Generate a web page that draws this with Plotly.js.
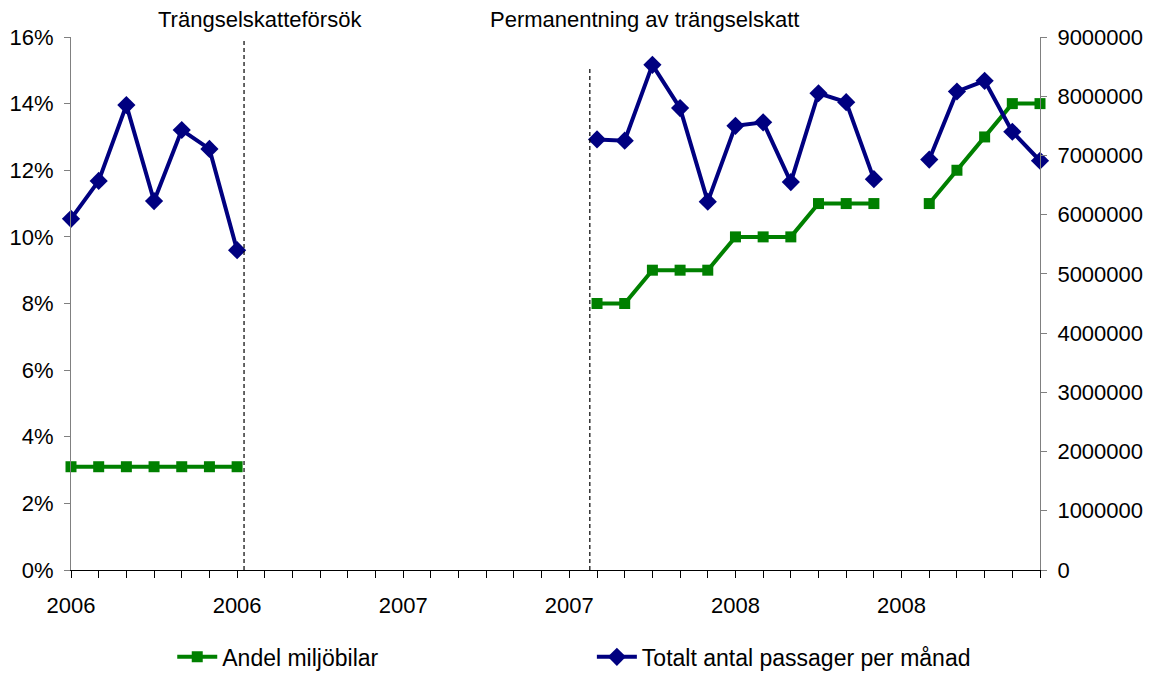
<!DOCTYPE html>
<html>
<head>
<meta charset="utf-8">
<script src="https://cdn.plot.ly/plotly-3.0.1.min.js"></script>
<style>html,body{margin:0;padding:0;background:#fff;}#chart{width:1156px;height:673px;}</style>
</head>
<body>
<div id="chart"></div>
<script>
// Months Jan 2006 .. Dec 2008 (index 0..35)
const monthIndex = Array.from({length: 36}, (_, i) => i);
const tickLabels = ["2006","","","","","","2006","","","","","","2007","","","","","","2007","","","","","","2008","","","","","","2008","","","","",""];

// Andel miljöbilar (share, fraction)
const andelMiljobilar = [
  0.031,0.031,0.031,0.031,0.031,0.031,0.031,
  null,null,null,null,null,null,null,null,null,null,null,null,
  0.08,0.08,0.09,0.09,0.09,
  0.10,0.10,0.10,0.11,0.11,0.11,
  null,
  0.11,0.12,0.13,0.14,0.14
];

// Totalt antal passager per månad
const passager = [
  5930000,6570000,7850000,6230000,7430000,7110000,5400000,
  null,null,null,null,null,null,null,null,null,null,null,null,
  7270000,7250000,8530000,7800000,6220000,
  7500000,7560000,6550000,8050000,7900000,6600000,
  null,
  6930000,8080000,8260000,7400000,6910000
];

const eventLabels = ["Trängselskatteförsök", "Permanentning av trängselskatt"];

const FONT = "Liberation Sans, Arial, sans-serif";

const traces = [
  {
    x: monthIndex, y: andelMiljobilar, name: "Andel miljöbilar",
    type: "scatter", mode: "lines+markers", yaxis: "y", legend: "legend",
    line: {color: "#008000", width: 4}, marker: {symbol: "square", size: 11, color: "#008000"},
    connectgaps: false, cliponaxis: false
  },
  {
    x: monthIndex, y: passager, name: "Totalt antal passager per månad",
    type: "scatter", mode: "lines+markers", yaxis: "y2", legend: "legend2",
    line: {color: "#000080", width: 4}, marker: {symbol: "diamond", size: 14, color: "#000080"},
    connectgaps: false, cliponaxis: false
  }
];

const layout = {
  width: 1156, height: 673,
  margin: {l: 71, r: 116, t: 37, b: 103},
  paper_bgcolor: "#fff", plot_bgcolor: "#fff",
  font: {family: FONT, size: 22, color: "#000"},
  showlegend: true,
  xaxis: {
    range: [0, 35], tickmode: "array", tickvals: monthIndex, ticktext: tickLabels,
    ticks: "outside", ticklen: 7, tickcolor: "#000", tickwidth: 1,
    showline: true, linecolor: "#000", linewidth: 1,
    showgrid: false, zeroline: false, ticklabelstandoff: 9,
    tickfont: {family: FONT, size: 22, color: "#000"}, automargin: false
  },
  yaxis: {
    range: [0, 0.16], dtick: 0.02, tickformat: ".0%",
    ticks: "outside", ticklen: 6, tickcolor: "#808080",
    showline: true, linecolor: "#808080", linewidth: 1,
    showgrid: false, zeroline: false, ticklabelstandoff: 6,
    tickfont: {family: FONT, size: 22, color: "#000"}, automargin: false
  },
  yaxis2: {
    range: [0, 9000000], dtick: 1000000, tickformat: "d", overlaying: "y", side: "right",
    ticks: "outside", ticklen: 6, tickcolor: "#808080",
    showline: true, linecolor: "#808080", linewidth: 1,
    showgrid: false, zeroline: false, ticklabelstandoff: 6,
    tickfont: {family: FONT, size: 22, color: "#000"}, automargin: false
  },
  legend: {
    orientation: "h", xref: "container", yref: "container",
    x: 0.149, xanchor: "left", y: 0.024, yanchor: "middle", itemwidth: 40,
    font: {family: FONT, size: 23, color: "#000"}, bgcolor: "rgba(0,0,0,0)"
  },
  legend2: {
    orientation: "h", xref: "container", yref: "container",
    x: 0.512, xanchor: "left", y: 0.024, yanchor: "middle", itemwidth: 40,
    font: {family: FONT, size: 23, color: "#000"}, bgcolor: "rgba(0,0,0,0)"
  },
  shapes: [
    {type: "line", xref: "x", yref: "paper", x0: 6.25, x1: 6.25, y0: 0, y1: 0.995,
     line: {color: "#000", width: 1.2, dash: "4px,3px"}},
    {type: "line", xref: "x", yref: "paper", x0: 18.74, x1: 18.74, y0: 0, y1: 0.942,
     line: {color: "#000", width: 1.2, dash: "4px,3px"}}
  ],
  annotations: [
    {text: eventLabels[0], xref: "x", yref: "paper", x: 6.83, y: 1.032, yanchor: "middle",
     showarrow: false, font: {family: FONT, size: 22, color: "#000"}},
    {text: eventLabels[1], xref: "x", yref: "paper", x: 20.7, y: 1.032, yanchor: "middle",
     showarrow: false, font: {family: FONT, size: 22, color: "#000"}}
  ]
};

Plotly.newPlot("chart", traces, layout, {displayModeBar: false, staticPlot: true});
</script>
</body>
</html>
